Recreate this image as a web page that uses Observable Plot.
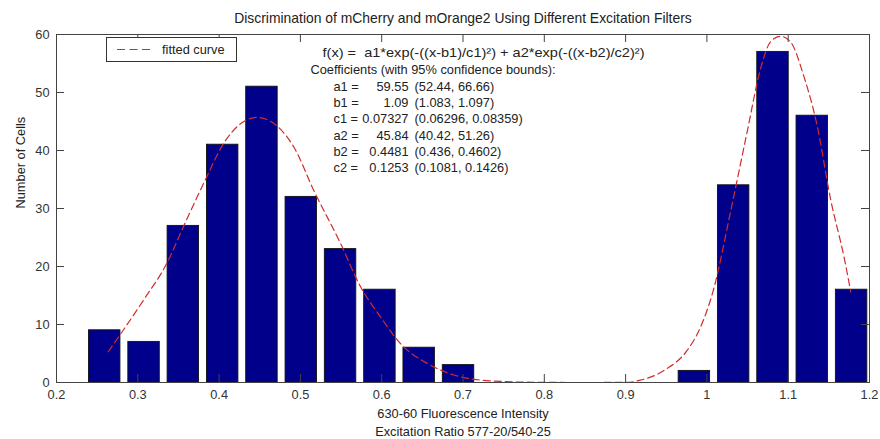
<!DOCTYPE html>
<html>
<head>
<meta charset="utf-8">
<script src="https://cdn.jsdelivr.net/npm/d3@7"></script>
<script src="https://cdn.jsdelivr.net/npm/@observablehq/plot@0.6"></script>
<style>
  html, body { margin: 0; padding: 0; background: #fff; }
  #wrap { position: relative; width: 880px; height: 439px; font-family: "Liberation Sans", Arial, sans-serif; color: #222; }
  #legend { position: absolute; left: 106px; top: 37px; width: 131px; height: 25px; border: 1px solid #333; background: #fff; box-sizing: border-box; }
  #legend span { position: absolute; left: 55px; top: 4px; font-size: 12.8px; white-space: nowrap; color: #222; }
  #legend svg { position: absolute; left: 8px; top: 0; }
</style>
</head>
<body>
<div id="wrap"></div>
<script>
// ---------- data ----------
const titleText = "Discrimination of mCherry and mOrange2 Using Different Excitation Filters";
const xLabelLines = ["630-60 Fluorescence Intensity", "Excitation Ratio 577-20/540-25"];
const yLabelText = "Number of Cells";
const legendLabel = "fitted curve";

const binCenters = [0.2593, 0.3077, 0.3560, 0.4044, 0.4527, 0.5011, 0.5494, 0.5978, 0.6461, 0.6945,
                    0.7428, 0.7912, 0.8395, 0.8879, 0.9362, 0.9846, 1.0329, 1.0813, 1.1296, 1.1780];
const counts = [9, 7, 27, 41, 51, 32, 23, 16, 6, 3, 0, 0, 0, 0, 0, 2, 34, 57, 46, 16];
const binWidth = 0.04835;

const curveX = [0.2636, 0.307, 0.3355, 0.3559, 0.3829, 0.4054, 0.4263, 0.4468, 0.4714, 0.4919, 0.5165,
                0.5493, 0.574, 0.5985, 0.6231, 0.6559, 0.6887, 0.7133, 0.754, 0.80, 0.85, 0.902, 0.918,
                0.951, 0.975, 0.992, 1.0085, 1.029, 1.0495, 1.066, 1.078, 1.0906, 1.103, 1.119, 1.1356,
                1.152, 1.169, 1.177];
const curveY = [5.3, 14.2, 20.5, 26.8, 34.9, 41.2, 44.6, 45.7, 44.2, 40.6, 33.1,
                24.0, 16.5, 11.3, 6.7, 3.3, 1.3, 0.55, 0.14, 0.02, 0.0, 0.03, 0.4,
                2.4, 5.4, 9.5, 16.2, 29.4, 43.2, 54.1, 58.7, 59.7, 58.7, 52.9, 44.3,
                31.7, 21.4, 15.6];

const formulaText = "f(x) =  a1*exp(-((x-b1)/c1)\u00B2) + a2*exp(-((x-b2)/c2)\u00B2)";
const coefHeader = "Coefficients (with 95% confidence bounds):";
const coefNames = ["a1", "b1", "c1", "a2", "b2", "c2"];
const coefValues = ["59.55", "1.09", "0.07327", "45.84", "0.4481", "0.1253"];
const coefBounds = ["(52.44, 66.66)", "(1.083, 1.097)", "(0.06296, 0.08359)", "(40.42, 51.26)", "(0.436, 0.4602)", "(0.1081, 0.1426)"];

const xTicks = [0.2, 0.3, 0.4, 0.5, 0.6, 0.7, 0.8, 0.9, 1.0, 1.1, 1.2];
const yTicks = [0, 10, 20, 30, 40, 50, 60];

// ---------- build ----------
const bars = binCenters.map((c, i) => ({c, n: counts[i]})).filter(d => d.n > 0);
const curve = curveX.map((x, i) => ({x, y: curveY[i]}));
const coefRows = coefNames.map((name, i) => ({i, name: name + " =", value: coefValues[i], bounds: coefBounds[i]}));

const barFill = "#00008b";
const curveColor = "#d42a2a";
const axisColor = "#444";
const textColor = "#222";
const tickLen = 8;
const rowH = 16.3;
const dash = "7,4";

const plot = Plot.plot({
  width: 880,
  height: 439,
  marginLeft: 56,
  marginRight: 11,
  marginTop: 34,
  marginBottom: 57,
  style: {fontFamily: "'Liberation Sans', Arial, sans-serif", fontSize: "12.8px", color: textColor, background: "#fff"},
  x: {domain: [0.2, 1.2]},
  y: {domain: [0, 60]},
  marks: [
    Plot.rectY(bars, {
      x1: d => d.c - 0.4 * binWidth,
      x2: d => d.c + 0.4 * binWidth,
      y1: 0,
      y2: d => d.n,
      fill: barFill,
      stroke: "#111",
      strokeWidth: 0.9
    }),
    Plot.line(curve, {x: "x", y: "y", stroke: curveColor, strokeWidth: 1.2, strokeDasharray: dash, curve: "monotone-x"}),
    Plot.frame({stroke: axisColor, strokeWidth: 1}),
    // inward ticks
    Plot.ruleX(xTicks, {x: d => d, y1: 0, y2: 0, insetTop: -tickLen, stroke: axisColor}),
    Plot.ruleX(xTicks, {x: d => d, y1: 60, y2: 60, insetBottom: -tickLen, stroke: axisColor}),
    Plot.ruleY(yTicks, {y: d => d, x1: 0.2, x2: 0.2, insetRight: -tickLen, stroke: axisColor}),
    Plot.ruleY(yTicks, {y: d => d, x1: 1.2, x2: 1.2, insetLeft: -tickLen, stroke: axisColor}),
    Plot.axisX({ticks: xTicks, tickSize: 0, tickPadding: 7, label: null, tickFormat: d => String(+d.toFixed(1)), fill: "#333"}),
    Plot.axisY({ticks: yTicks, tickSize: 0, tickPadding: 7, label: null, tickFormat: d => String(d), fill: "#333"}),
    // title and axis labels
    Plot.text([titleText], {frameAnchor: "top", dy: -16, lineAnchor: "middle", fill: textColor, fontSize: 13.9}),
    Plot.text([xLabelLines[0]], {frameAnchor: "bottom", dy: 31, lineAnchor: "middle", fill: textColor}),
    Plot.text([xLabelLines[1]], {frameAnchor: "bottom", dy: 49, lineAnchor: "middle", fill: textColor}),
    Plot.text([yLabelText], {frameAnchor: "left", dx: -36, rotate: -90, lineAnchor: "middle", fill: textColor}),
    // fit annotation
    Plot.text([formulaText], {frameAnchor: "top-left", dx: 266, dy: 18, textAnchor: "start", lineAnchor: "middle", fill: textColor}),
    Plot.text([coefHeader], {frameAnchor: "top-left", dx: 254, dy: 35, textAnchor: "start", lineAnchor: "middle", fill: textColor}),
    ...coefRows.map(r => Plot.text([r.name], {frameAnchor: "top-left", dx: 277, dy: 52 + r.i * rowH, textAnchor: "start", lineAnchor: "middle", fill: textColor})),
    ...coefRows.map(r => Plot.text([r.value], {frameAnchor: "top-left", dx: 352, dy: 52 + r.i * rowH, textAnchor: "end", lineAnchor: "middle", fill: textColor})),
    ...coefRows.map(r => Plot.text([r.bounds], {frameAnchor: "top-left", dx: 358, dy: 52 + r.i * rowH, textAnchor: "start", lineAnchor: "middle", fill: textColor}))
  ]
});

const wrap = document.getElementById("wrap");
wrap.appendChild(plot);

// stretch the formula line to the width it has in the reference
d3.select(plot).selectAll("text").filter(function () { return this.textContent === formulaText; })
  .attr("textLength", 322).attr("lengthAdjust", "spacingAndGlyphs");

const legend = document.createElement("div");
legend.id = "legend";
legend.innerHTML = `<svg width="44" height="23"><line x1="2" y1="11.5" x2="39" y2="11.5" stroke="${curveColor}" stroke-width="1.2" stroke-dasharray="8,4.5"/></svg><span></span>`;
legend.querySelector("span").textContent = legendLabel;
wrap.appendChild(legend);
</script>
</body>
</html>
